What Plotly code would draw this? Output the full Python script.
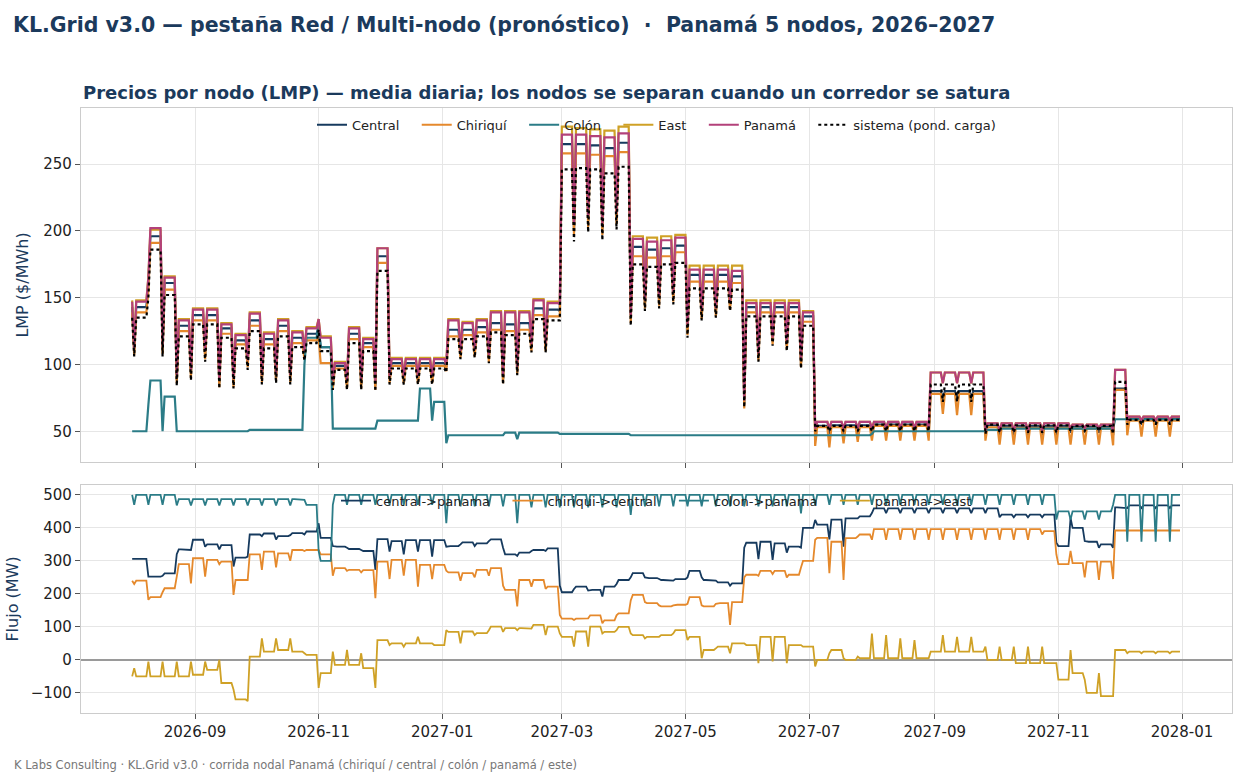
import pandas as pd
import plotly.graph_objects as go
from plotly.subplots import make_subplots

# weekly levels: *_wd = working-day level, *_we = Sunday low
# 74 weeks, first week starts Sat 2026-08-01
start_date = "2026-08-01"

central_wd = [143, 196, 161, 129, 137, 137, 127, 118, 133, 119,
              129, 120, 123, 113, 99, 123, 116, 181, 101, 101,
              101, 101, 126, 126, 128, 131, 130, 131, 142, 141,
              265, 265, 264, 262, 266, 188, 186, 187, 189, 167,
              167, 167, 166, 143, 143, 143, 143, 136, 54, 54.5,
              54.5, 54.5, 55, 55, 55, 55, 80, 80, 80, 80,
              54.5, 54, 54, 54, 54, 54, 53.5, 53.5, 53.5, 82,
              59.5, 59.5, 59.5, 59.5]
central_we = [110, 160, 111, 89, 93, 107, 86, 86, 101, 89,
              90, 89, 107, 128, 85, 85, 85, 84, 89, 89,
              89, 89, 98, 108, 109, 105, 89, 96, 113, 113,
              140, 201, 207, 201, 209, 134, 145, 147, 150, 125,
              137, 139, 144, 70, 106, 118, 114, 101, 48, 48,
              48, 48, 48, 48, 48, 48, 48, 74, 74, 74,
              47, 47, 47, 47, 47, 47, 49, 49, 49, 47,
              55, 55, 55, 55]

chiriqui_wd = [139, 191, 156, 125, 133, 133, 123, 115, 129, 115,
               125, 116, 118, 101, 97, 119, 113, 176, 99, 99,
               99, 99, 121, 122, 124, 126, 125, 126, 137, 136,
               258, 258, 257, 256, 259, 181, 180, 181, 184, 162,
               162, 162, 161, 139, 139, 139, 139, 132, 53, 53,
               53, 53, 54, 54, 54, 54, 78, 78, 78, 78,
               53, 52.5, 52.5, 52.5, 52.5, 52.5, 52, 52, 52, 81,
               58, 58, 58, 58]
chiriqui_we = [107, 155, 108, 86, 90, 104, 83, 83, 98, 87,
               88, 87, 104, 120, 82, 82, 82, 81, 86, 86,
               86, 86, 95, 105, 106, 102, 86, 93, 110, 110,
               136, 197, 203, 197, 205, 131, 142, 144, 147, 122,
               134, 136, 141, 67, 103, 115, 111, 98, 39, 38,
               41, 42, 43, 43, 43, 43, 43, 63, 62, 62,
               43, 40, 40, 40, 40, 40, 40, 40, 40, 39.5,
               47, 46, 46, 46]

colon_wd = [50, 88, 76, 50, 50, 50, 50, 50, 51, 51,
            51, 51, 120, 113, 52, 52, 52, 58, 58, 58,
            82, 72, 47, 47, 47, 47, 49, 49, 49, 49,
            48, 48, 48, 48, 48, 47, 47, 47, 47, 47,
            47, 47, 47, 47, 47, 47, 47, 47, 47, 47,
            47, 47, 50, 50, 50, 50, 50, 50, 50, 50,
            51, 52, 52, 52, 52, 52, 52, 52, 52, 59,
            59, 59, 59, 59]
colon_we = [50, 70, 50, 50, 50, 50, 50, 50, 50, 51,
            51, 51, 100, 130, 52, 52, 52, 52, 58, 58,
            58, 58, 41, 47, 47, 47, 47, 44, 49, 49,
            48, 48, 48, 48, 48, 47, 47, 47, 47, 47,
            47, 47, 47, 47, 47, 47, 47, 47, 47, 47,
            47, 47, 48, 50, 50, 50, 50, 50, 50, 50,
            50, 52, 52, 52, 52, 52, 52, 52, 52, 52,
            59, 59, 59, 59]

east_wd = [148, 201, 166, 134, 142, 142, 131, 123, 139, 124,
           134, 125, 128, 121, 102, 128, 120, 187, 105, 105,
           105, 105, 134, 132, 134, 140, 140, 140, 149, 147,
           278, 277, 276, 275, 278, 196, 195, 196, 197, 174,
           174, 174, 174, 148, 148, 148, 148, 140, 57, 57,
           57, 57, 57, 57, 57, 57, 94, 94, 94, 94,
           56, 56, 56, 56, 56, 56, 55, 55, 55, 96,
           61, 61, 61, 61]
east_we = [112, 166, 113, 92, 96, 110, 89, 89, 103, 92,
           93, 92, 110, 134, 88, 88, 88, 87, 91, 91,
           91, 91, 100, 110, 111, 107, 92, 98, 115, 115,
           146, 208, 214, 208, 216, 140, 150, 152, 155, 130,
           142, 144, 149, 75, 110, 122, 118, 105, 52, 52,
           52, 52, 52, 52, 52, 52, 52, 86, 86, 86,
           50, 50, 50, 50, 50, 50, 52, 52, 52, 50,
           58, 58, 58, 58]

panama_wd = [147, 202, 165, 133, 141, 141, 130, 122, 138, 123,
             133, 124, 127, 120, 101, 127, 119, 187, 104, 104,
             104, 104, 133, 131, 133, 139, 139, 139, 148, 146,
             272, 272, 271, 270, 273, 194, 192, 193, 195, 171,
             171, 171, 170, 146, 146, 146, 146, 139, 57, 57,
             57, 57, 57, 57, 57, 57, 94, 94, 94, 94,
             56, 56, 56, 56, 56, 56, 55, 55, 55, 96,
             61, 61, 61, 61]
panama_we = [112, 165, 113, 92, 96, 110, 89, 89, 103, 92,
             93, 92, 110, 134, 88, 88, 88, 87, 91, 91,
             91, 91, 100, 110, 111, 107, 92, 98, 115, 115,
             145, 205, 211, 205, 213, 137, 148, 150, 153, 128,
             140, 142, 147, 73, 108, 120, 116, 103, 52, 52,
             52, 52, 52, 52, 52, 52, 52, 86, 86, 86,
             50, 50, 50, 50, 50, 50, 52, 52, 52, 50,
             58, 58, 58, 58]

sistema_wd = [135, 186, 152, 121, 130, 130, 120, 112, 125, 112,
              121, 113, 116, 110, 96, 116, 110, 170, 97, 97,
              97, 97, 119, 119, 121, 124, 122, 123, 134, 133,
              246, 247, 246, 243, 248, 175, 173, 175, 176, 157,
              157, 157, 156, 136, 136, 136, 136, 129, 54, 54,
              54, 54, 55, 55, 55, 55, 85, 85, 85, 85,
              55, 54.5, 54.5, 54.5, 54.5, 54.5, 54, 54, 54, 87,
              58.5, 58.5, 58.5, 58.5]
sistema_we = [106, 150, 106, 84, 88, 102, 82, 82, 96, 85,
              86, 85, 103, 126, 81, 81, 81, 80, 85, 85,
              85, 85, 94, 104, 105, 101, 85, 92, 109, 109,
              133, 192, 199, 193, 201, 129, 140, 142, 145, 120,
              133, 135, 140, 68, 102, 114, 110, 97, 50, 50,
              50, 50, 50, 50, 50, 50, 50, 72, 72, 72,
              48, 49, 49, 49, 49, 49, 50, 50, 50, 48,
              55, 55, 55, 55]

# corridor flows (MW)
cen_pan_wd = [306, 252, 262, 335, 364, 350, 348, 310, 380, 383,
              375, 384, 389, 370, 343, 336, 330, 366, 360, 363,
              363, 363, 345, 356, 353, 365, 320, 325, 333, 338,
              205, 222, 212, 222, 242, 263, 248, 242, 245, 270,
              242, 235, 232, 355, 358, 353, 343, 400, 410, 425,
              429, 435, 459, 459, 459, 459, 459, 459, 459, 459,
              459, 440, 440, 440, 440, 345, 400, 358, 350, 462,
              468, 468, 468, 468]
cen_pan_we = [306, 252, 255, 320, 333, 343, 335, 283, 313, 375,
              365, 378, 380, 414, 345, 340, 333, 273, 328, 320,
              328, 313, 343, 350, 345, 360, 340, 315, 330, 330,
              225, 215, 210, 192, 230, 250, 250, 245, 240, 250,
              250, 240, 225, 340, 305, 303, 325, 340, 424, 365,
              343, 429, 445, 445, 445, 445, 445, 445, 445, 445,
              445, 432, 432, 432, 432, 355, 430, 360, 340, 340,
              460, 460, 460, 460]

chi_cen_wd = [240, 190, 217, 290, 308, 303, 298, 242, 320, 328,
              323, 333, 333, 320, 278, 273, 272, 298, 303, 303,
              288, 288, 265, 263, 273, 278, 212, 242, 242, 222,
              125, 125, 135, 120, 141, 197, 172, 162, 167, 190,
              162, 172, 175, 258, 270, 270, 258, 300, 370, 358,
              369, 380, 396, 396, 396, 396, 396, 396, 396, 396,
              396, 396, 396, 396, 390, 290, 293, 298, 298, 392,
              392, 392, 392, 392]
chi_cen_we = [230, 182, 205, 252, 232, 252, 290, 197, 242, 273,
              280, 300, 330, 333, 255, 270, 265, 187, 245, 255,
              222, 245, 270, 240, 250, 255, 225, 162, 222, 215,
              136, 121, 126, 111, 135, 180, 175, 165, 165, 170,
              165, 170, 106, 250, 255, 260, 250, 280, 364, 263,
              242, 374, 364, 364, 364, 364, 364, 364, 364, 364,
              364, 364, 364, 364, 380, 320, 330, 250, 242, 245,
              392, 392, 392, 392]

col_pan_wd = [500, 500, 500, 487, 487, 487, 487, 487, 487, 487,
              487, 487, 470, 300, 500, 500, 500, 500, 500, 500,
              500, 500, 500, 500, 500, 500, 500, 500, 500, 500,
              500, 500, 500, 500, 500, 500, 500, 500, 500, 500,
              500, 500, 500, 500, 500, 500, 500, 500, 500, 500,
              500, 500, 500, 500, 500, 500, 500, 500, 500, 500,
              500, 500, 500, 500, 500, 450, 450, 450, 450, 500,
              500, 500, 500, 500]
col_pan_we = [470, 470, 470, 468, 468, 468, 468, 468, 468, 468,
              468, 468, 485, 330, 470, 470, 470, 470, 470, 470,
              470, 470, 414, 465, 465, 465, 465, 414, 462, 462,
              462, 462, 462, 462, 462, 439, 465, 465, 465, 465,
              465, 465, 465, 465, 465, 465, 465, 444, 470, 470,
              470, 470, 470, 470, 470, 470, 470, 470, 470, 470,
              470, 470, 470, 470, 470, 425, 425, 425, 425, 470,
              358, 358, 358, 358]

pan_east_wd = [-50, -50, -50, -50, -45, -30, -70, -120, 10, 25,
               30, 25, 15, -40, -15, -15, -25, 60, 50, 50,
               50, 45, 85, 86, 81, 101, 96, 96, 106, 101,
               70, 86, 101, 85, 100, 75, 70, 75, 90, 70,
               30, 40, 50, 45, 70, 70, 45, 40, 0, 30,
               0, 5, 5, 5, 5, 5, 25, 25, 25, 25,
               0, 0, -10, -10, -10, -60, -40, -100, -110, 30,
               25, 25, 25, 25]
pan_east_we = [-25, -5, -5, -5, -5, -5, 0, -90, -125, 65,
               65, 65, 20, -85, 25, 30, 20, -85, 45, 40,
               70, 50, 90, 50, 75, 90, 85, 90, 95, 75,
               80, 40, 40, 80, 90, 80, 65, 70, 80, 60,
               5, 35, 20, 50, -10, -5, -10, 45, -20, 20,
               5, 10, 80, 75, 65, 60, 5, 75, 70, 70,
               40, 40, 40, 40, 40, -10, 30, -60, -40, -110,
               20, 20, 20, 20]

NAVY = "#163a5e"
ORANGE = "#e5892c"
TEAL = "#2b7c87"
GOLD = "#cfa126"
MAGENTA = "#b3417a"
TXT = "#1b3a5c"
GAP = "\u00a0\u00a0\u00a0"  # extra room between legend entries


def daily(wd, we):
    # Sat keeps last week's level, Sunday is the low, then Mon..Fri
    out = []
    prev = wd[0]
    for a, b in zip(wd, we):
        out += [prev, b, a, a, a, a, a]
        prev = a
    return out


dates = pd.date_range(start_date, periods=7 * len(central_wd), freq="D")

fig = make_subplots(rows=2, cols=1, shared_xaxes=True)

prices = [
    ("Central", central_wd, central_we, NAVY),
    ("Chiriquí", chiriqui_wd, chiriqui_we, ORANGE),
    ("Colón", colon_wd, colon_we, TEAL),
    ("East", east_wd, east_we, GOLD),
    ("Panamá", panama_wd, panama_we, MAGENTA),
]
for name, wd, we, col in prices:
    fig.add_trace(go.Scatter(x=dates, y=daily(wd, we), mode="lines", name=name + GAP,
                             line=dict(color=col, width=2.2), legend="legend"), 1, 1)
fig.add_trace(go.Scatter(x=dates, y=daily(sistema_wd, sistema_we), mode="lines",
                         name="sistema (pond. carga)",
                         line=dict(color="black", width=2.2, dash="dot"), legend="legend"), 1, 1)

flows = [
    ("central->panama", cen_pan_wd, cen_pan_we, NAVY),
    ("chiriqui->central", chi_cen_wd, chi_cen_we, ORANGE),
    ("colon->panama", col_pan_wd, col_pan_we, TEAL),
    ("panama->east", pan_east_wd, pan_east_we, GOLD),
]
for i, (name, wd, we, col) in enumerate(flows):
    label = name if i == len(flows) - 1 else name + GAP
    fig.add_trace(go.Scatter(x=dates, y=daily(wd, we), mode="lines", name=label,
                             line=dict(color=col, width=1.8), legend="legend2"), 2, 1)

x_range = ["2026-07-06 18:00", "2028-01-25 16:00"]
axis_common = dict(showline=True, linecolor="#cccccc", linewidth=1.2, mirror=True,
                   showgrid=True, gridcolor="#e6e6e6", gridwidth=1, zeroline=False,
                   ticks="outside", ticklen=5, tickcolor="#555", automargin=False,
                   tickfont=dict(size=15, color="#222"))

fig.update_xaxes(**axis_common, range=x_range, tickformat="%Y-%m",
                 dtick="M2", tick0="2026-09-01")
fig.update_xaxes(showticklabels=False, row=1, col=1)
fig.update_yaxes(**axis_common)
fig.update_yaxes(range=[27, 292], tickvals=[50, 100, 150, 200, 250],
                 title=dict(text="LMP ($/MWh)", font=dict(size=16, color=TXT), standoff=10),
                 row=1, col=1)
fig.update_yaxes(range=[-161, 530], tickvals=[-100, 0, 100, 200, 300, 400, 500],
                 zeroline=True, zerolinecolor="#9a9a9a", zerolinewidth=1.5,
                 title=dict(text="Flujo (MW)", font=dict(size=16, color=TXT), standoff=8),
                 row=2, col=1)

# plot area: x 81..1232 px, y 108..713 px
fig.update_layout(
    width=1250, height=773,
    margin=dict(l=81, r=18, t=108, b=60, autoexpand=False),
    paper_bgcolor="white", plot_bgcolor="white",
    font=dict(family="DejaVu Sans", color="#222"),
    yaxis=dict(domain=[0.4149, 1.0]),
    yaxis2=dict(domain=[0.0, 0.3769]),
    title=dict(text="KL.Grid v3.0 — pestaña Red / Multi-nodo (pronóstico)  ·  Panamá 5 nodos, 2026–2027",
               x=0.0104, xanchor="left", y=0.968, yanchor="middle", pad=dict(l=0, t=0, b=0),
               font=dict(size=20.5, color=TXT, weight="bold")),
    legend=dict(orientation="h", x=0.5, xanchor="center", y=0.997, yanchor="top",
                bgcolor="rgba(0,0,0,0)", font=dict(size=13, color="#222")),
    legend2=dict(orientation="h", x=0.5, xanchor="center", y=0.3756, yanchor="top",
                 bgcolor="rgba(0,0,0,0)", font=dict(size=13, color="#222")),
    showlegend=True,
)

fig.add_annotation(text="Precios por nodo (LMP) — media diaria; los nodos se separan cuando un corredor se satura",
                   xref="paper", yref="paper", x=0.0, y=1.0248, xanchor="left", yanchor="middle",
                   showarrow=False, font=dict(size=18, color=TXT, weight="bold"))
fig.add_annotation(text="K Labs Consulting · KL.Grid v3.0 · corrida nodal Panamá (chiriquí / central / colón / panamá / este)",
                   xref="paper", yref="paper", x=-0.06, y=-0.086, xanchor="left", yanchor="middle",
                   showarrow=False, font=dict(size=11.5, color="#777"))

# page body has a default margin; drop it so the figure sits at the window corner
fig.write_html("out.html", config={"displayModeBar": False},
               post_script="document.body.style.margin='0';")
